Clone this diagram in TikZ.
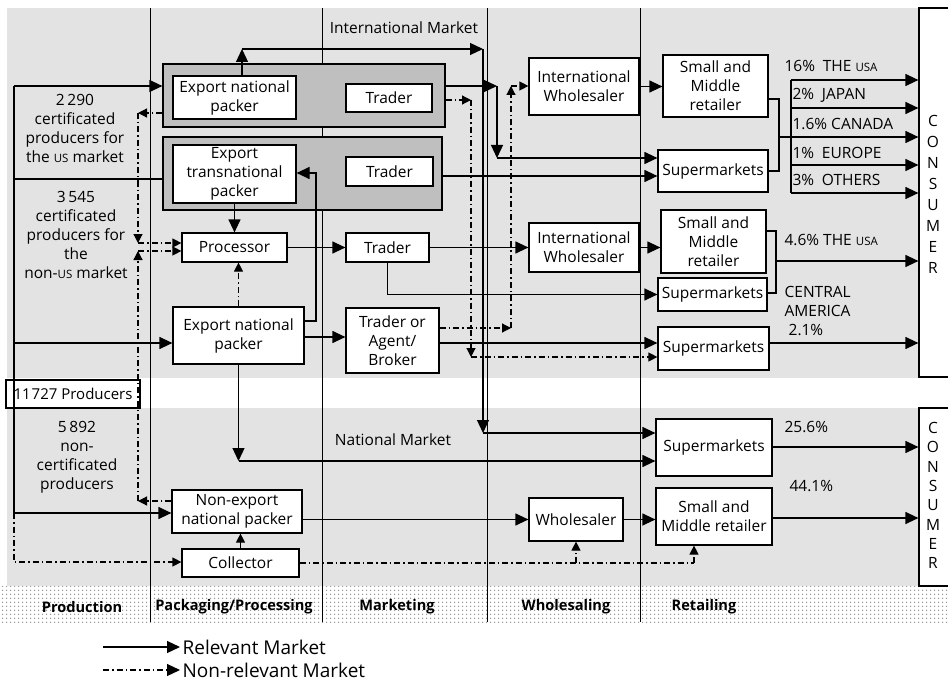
\documentclass[tikz,border=0pt]{standalone}
\usepackage{fontspec}
\setmainfont{Open Sans}
\usetikzlibrary{arrows.meta,patterns.meta}
\definecolor{ChainLight}{HTML}{E3E3E3}
\definecolor{ChainDark}{HTML}{BFBFBF}
\newcommand{\smcap}[1]{{\fontsize{11.5}{12}\selectfont #1}}

\begin{document}
\begin{tikzpicture}[x=1pt,y=-1pt,line width=1.2pt,
  box/.style={draw,fill=white,align=center,inner sep=1pt,font=\fontsize{15.5}{19}\selectfont},
  shade/.style={draw,fill=ChainDark,inner sep=0pt},
  txt/.style={align=center,inner sep=0pt,font=\fontsize{15.5}{19}\selectfont},
  lane/.style={inner sep=0pt,font=\bfseries\fontsize{14.6}{16}\selectfont},
  arr/.style={-{Triangle[length=13pt,width=12pt]}},
  sarr/.style={-{Triangle[length=9pt,width=9pt]}},
  nrel/.style={dash pattern=on 6pt off 3pt on 1.5pt off 3pt}]
\useasboundingbox (0,0) rectangle (948,682);
% bands
\fill[ChainLight] (7,8) rectangle (919,378);
\fill[ChainLight] (7,408) rectangle (919,586);
\fill[pattern={Dots[distance=4pt,radius=0.9pt]},pattern color=gray!90] (0,586) rectangle (948,622);
\foreach \x in {150,322,487,640} \draw[line width=0.9pt] (\x,8) -- (\x,622);
\node[lane] (l1) at (82,607) {Production};
\node[lane] (l2) at (234,607) {Packaging/Processing};
\node[lane] (l3) at (397,607) {Marketing};
\node[lane] (l4) at (566,607) {Wholesaling};
\node[lane] (l5) at (704,607) {Retailing};
\node[txt] (intl) at (404,28) {International Market};
\node[txt] (natl) at (393,440) {National Market};

% consumers
\node[draw,fill=white,minimum width=56pt,minimum height=369pt,inner sep=0pt] (cons1) at (947,192.5) {};
\node[draw,fill=white,minimum width=56pt,minimum height=178pt,inner sep=0pt] (cons2) at (947,497) {};
\foreach \l [count=\i from 0] in {C,O,N,S,U,M,E,R}{
  \node[txt] (ca\i) at (933,121+21*\i) {\l};
  \node[txt] (cb\i) at (933,428+19.3*\i) {\l};
}

% producers
\node[txt] (us) at (75,128) {2\,290\\certificated\\producers for\\the \smcap{US} market};
\node[txt] (nonus) at (76,235) {3\,545\\certificated\\producers for\\the\\non-\smcap{US} market};
\node[txt] (noncert) at (77,457) {5\,892\\non-\\certificated\\producers};
\node[box,inner sep=0pt,font=\fontsize{15}{18}\selectfont,minimum width=134pt,minimum height=28pt] (prod) at (73,394) {11\hspace{1pt}727 Producers};

% packers and traders
\node[shade,minimum width=282pt,minimum height=63pt] (gbox1) at (304,95.5) {};
\node[shade,minimum width=279pt,minimum height=73pt] (gbox2) at (302.5,173.5) {};
\node[box,minimum width=123pt,minimum height=43pt] (enp1) at (234.5,97.5) {Export national\\packer};
\node[box,minimum width=86pt,minimum height=28pt] (trd1) at (389,98) {Trader};
\node[box,minimum width=123pt,minimum height=58pt] (etp) at (234.5,174) {Export\\transnational\\packer};
\node[box,minimum width=87pt,minimum height=29pt] (trd2) at (389.5,171.5) {Trader};
\node[box,minimum width=105pt,minimum height=29pt] (proc) at (234.5,247.5) {Processor};
\node[box,minimum width=83pt,minimum height=29pt] (trd3) at (387.5,247.5) {Trader};
\node[box,minimum width=131pt,minimum height=57pt] (enp2) at (238.5,335.5) {Export national\\packer};
\node[box,minimum width=93pt,minimum height=65pt] (tab) at (392.5,340.5) {Trader or\\Agent/\\Broker};
\node[box,minimum width=130pt,minimum height=43pt] (nenp) at (237,511.5) {Non-export\\national packer};
\node[box,minimum width=117pt,minimum height=28pt] (coll) at (240.5,563) {Collector};

% wholesalers and retailers
\node[box,minimum width=110pt,minimum height=57pt] (iw1) at (584,86.5) {International\\Wholesaler};
\node[box,minimum width=110pt,minimum height=49pt] (iw2) at (584,247.5) {International\\Wholesaler};
\node[box,minimum width=94pt,minimum height=43pt] (whs) at (576,519.5) {Wholesaler};
\node[box,minimum width=105pt,minimum height=62pt] (smr1) at (715.5,86) {Small and\\Middle\\retailer};
\node[box,minimum width=110pt,minimum height=42pt] (sm1) at (713,171) {Supermarkets};
\node[box,minimum width=105pt,minimum height=63pt] (smr2) at (713.5,241.5) {Small and\\Middle\\retailer};
\node[box,minimum width=109pt,minimum height=33pt] (sm2) at (712.5,294.5) {Supermarkets};
\node[box,minimum width=111pt,minimum height=43pt] (sm3) at (713.5,348.5) {Supermarkets};
\node[box,minimum width=116pt,minimum height=57pt] (sm4) at (714,447.5) {Supermarkets};
\node[box,minimum width=116pt,minimum height=57pt] (smr3) at (714,516.5) {Small and\\Middle retailer};

% shares
\node[txt,anchor=west] (s1) at (784,66) {16\%\enspace THE \smcap{USA}};
\node[txt,anchor=west] (s2) at (792,95) {2\%\enspace JAPAN};
\node[txt,anchor=west] (s3) at (792,124) {1.6\% CANADA};
\node[txt,anchor=west] (s4) at (792,153) {1\%\enspace EUROPE};
\node[txt,anchor=west] (s5) at (792,180) {3\%\enspace OTHERS};
\node[txt,anchor=west] (s6) at (784,240) {4.6\% THE \smcap{USA}};
\node[txt,anchor=west,align=left] (s7) at (784,311) {CENTRAL\\AMERICA\\\ 2.1\%};
\node[txt,anchor=west] (s8) at (784,427) {25.6\%};
\node[txt,anchor=west] (s9) at (789,486) {44.1\%};

% producers to packers
\coordinate (ltop) at (14,86);
\coordinate (lus) at (14,179);
\coordinate (lnon) at (14,343);
\coordinate (lbot) at (14,513);
\coordinate (lcol) at (14,562);
\draw (ltop) -- (lbot);
\draw[arr] (ltop) -- (gbox1.west |- ltop);
\draw (lus) -- (gbox2.west |- lus);
\draw[arr] (lnon) -- (enp2.west |- lnon);
\draw[arr] (lbot) -- (nenp.west |- lbot);
\draw[nrel,sarr] (lbot) -- (lcol) -- (coll.west |- lcol);

% back to the processor
\coordinate (d1) at (138,113);
\coordinate (d2) at (138,243);
\coordinate (d3) at (138,251);
\coordinate (d4) at (138,501);
\draw[nrel,sarr] (gbox1.west |- d1) -- (d1);
\draw[nrel,sarr] (d1) -- (d2);
\draw[nrel,sarr] (d2) -- (proc.west |- d2);
\draw[nrel,sarr] (nenp.west |- d4) -- (d4);
\draw[nrel,sarr] (d4) -- (d3);
\draw[nrel,sarr] (d3) -- (proc.west |- d3);
\draw[arr] (etp.south) -- (proc.north);
\draw[nrel,sarr] (enp2.north) -- (enp2.north |- proc.south);
\draw[arr] (proc) -- (trd3);
\coordinate (h1) at (316,321);
\coordinate (h2) at (316,173);
\draw[arr] (enp2.east |- h1) -- (h1) -- (h2) -- (etp.east |- h2);
\draw[arr] (enp2.east |- 0,337) -- (tab.west |- 0,337);

% international market
\coordinate (im1) at (242,49);
\coordinate (im2) at (483,49);
\coordinate (nm1) at (483,433);
\draw[arr] (im1 |- enp1.north) -- (im1);
\draw[arr] (im1) -- (im2);
\draw[arr] (im2) -- (nm1);
\draw[arr] (nm1) -- (sm4.west |- nm1);
\coordinate (t1) at (497,86);
\coordinate (t2) at (497,158);
\draw[arr] (gbox1.east |- t1) -- (t1);
\draw[arr] (t1) -- (t2);
\draw[arr] (t2) -- (sm1.west |- t2);
\coordinate (e1) at (471,100);
\coordinate (e2) at (471,357);
\draw[nrel,sarr] (gbox1.east |- e1) -- (e1);
\draw[nrel,sarr] (e1) -- (e2);
\draw[nrel,sarr] (e2) -- (sm3.west |- e2);
\coordinate (f1) at (511,328);
\coordinate (f2) at (511,86);
\draw[nrel,sarr] (tab.east |- f1) -- (f1);
\draw[nrel,sarr] (f1) -- (f2);
\draw[nrel,sarr] (f2) -- (iw1.west |- f2);
\draw[arr] (gbox2.east |- 0,176) -- (sm1.west |- 0,176);
\draw[arr] (trd3) -- (iw2);
\draw[arr] (trd3.south) |- (sm2.west);
\draw[arr] (tab.east |- 0,343) -- (sm3.west |- 0,343);
\draw[arr] (iw1) -- (smr1.west |- iw1);
\draw[arr] (iw2) -- (smr2.west |- iw2);

% national market
\coordinate (k1) at (238,461);
\draw[arr] (enp2.south) -- (enp2.south |- k1);
\draw[arr] (enp2.south |- k1) -- (sm4.west |- k1);
\draw[arr] (nenp.east |- whs) -- (whs.west);
\draw[arr] (whs) -- (smr3.west |- whs);
\draw[sarr] (coll.north) -- (coll.north |- nenp.south);
\coordinate (m2) at (694,563);
\draw[nrel] (coll.east) -- (m2);
\draw[nrel,sarr] (m2) -- (smr3.south -| m2);
\draw[nrel,sarr] (whs.south |- m2) -- (whs.south);

% to consumers
\coordinate (b1) at (779,99);
\coordinate (b2) at (779,171);
\draw (smr1.east |- b1) -- (b1) -- (b2) -- (sm1.east |- b2);
\draw (779,137) -- (791,137);
\draw (791,80) -- (791,193);
\foreach \yy in {80,108,137,165,193} \draw[arr] (791,\yy) -- (cons1.west |- 0,\yy);
\coordinate (b3) at (776,231);
\coordinate (b4) at (776,293);
\draw (smr2.east |- b3) -- (b3) -- (b4) -- (sm2.east |- b4);
\draw[arr] (776,261) -- (cons1.west |- 0,261);
\draw[arr] (sm3.east |- 0,343) -- (cons1.west |- 0,343);
\draw[arr] (sm4.east |- 0,447) -- (cons2.west |- 0,447);
\draw[arr] (smr3.east |- 0,518) -- (cons2.west |- 0,518);

% legend
\coordinate (lg1) at (103,647);
\coordinate (lg2) at (180,647);
\coordinate (lg3) at (103,670);
\coordinate (lg4) at (180,670);
\draw[arr] (lg1) -- (lg2);
\draw[nrel,arr] (lg3) -- (lg4);
\node[anchor=west,inner sep=2pt,font=\fontsize{19}{22}\selectfont] (lgt1) at (lg2) {Relevant Market};
\node[anchor=west,inner sep=2pt,font=\fontsize{19}{22}\selectfont] (lgt2) at (lg4) {Non-relevant Market};
\end{tikzpicture}
\end{document}
